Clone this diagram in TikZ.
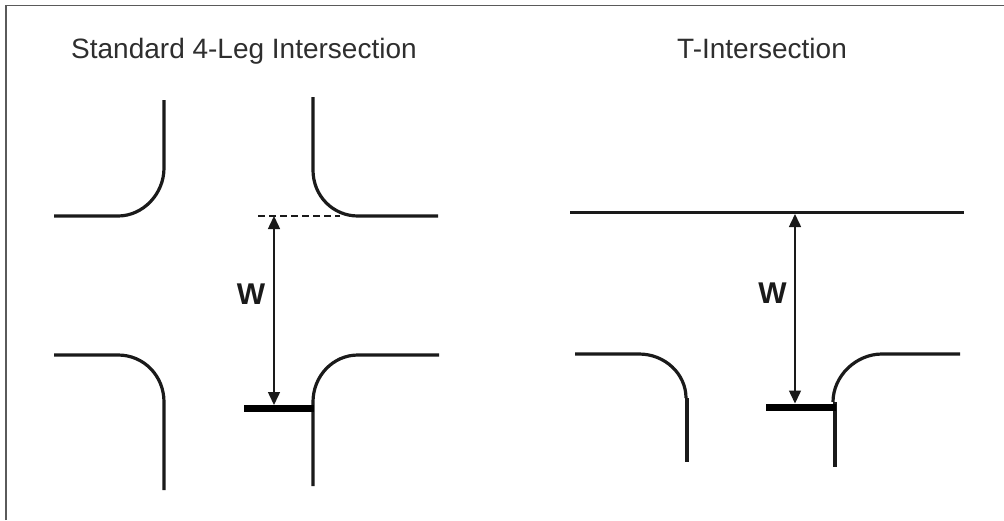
\documentclass[tikz,border=0pt]{standalone}
\usepackage{fontspec}
\setmainfont{Liberation Sans}
\usetikzlibrary{arrows.meta}
\definecolor{framegray}{HTML}{5A5A5A}
\definecolor{inkdark}{HTML}{1A1A1A}
\definecolor{titleink}{HTML}{2E2E2E}
\tikzset{
  road/.style={line width=3.2pt,draw=inkdark,line cap=butt,line join=round},
  stopbar/.style={line width=7pt,draw=black},
  dim/.style={line width=1.5pt,draw=inkdark,{Triangle[length=13pt,width=12pt]}-{Triangle[length=13pt,width=12pt]}},
  sightline/.style={line width=1.3pt,draw=inkdark,dash pattern=on 7pt off 4pt},
  frameline/.style={line width=1.6pt,draw=framegray},
  title/.style={anchor=base west,inner sep=0pt,text=titleink,font=\fontsize{28pt}{32pt}\selectfont},
  wlabel/.style={inner sep=0pt,text=inkdark,font=\fontsize{30pt}{34pt}\selectfont\bfseries}
}
\begin{document}
\begin{tikzpicture}[x=1pt,y=-1pt]
\useasboundingbox (0,0) rectangle (1004,520);
\fill[white] (0,0) rectangle (1004,520);
\draw[frameline] (6,520) -- (6,5.5) -- (1004,5.5);

\node[title] (t1) at (71,58.5) {Standard 4-Leg Intersection};
\node[title] (t2) at (677,58) {T-Intersection};

% 4-leg
\draw[road] (54,216) -- (118,216) .. controls (143,216) and (164,194) .. (164,168) -- (164,100);
\draw[road] (313,97) -- (313,170) .. controls (313,196) and (333,216) .. (358,216) -- (438,216);
\draw[road] (54,355) -- (118,355) .. controls (144,355) and (164,376) .. (164,402) -- (164,490);
\draw[road] (439,355) -- (358,355) .. controls (333,355) and (313,376) .. (313,402) -- (313,486);
\coordinate (a1) at (258,216);
\coordinate (a2) at (340,216);
\draw[sightline] (a1) -- (a2);
\coordinate (b1) at (244,408.5);
\coordinate (b2) at (314,408.5);
\draw[stopbar] (b1) -- (b2);
\coordinate (d1) at (274,216);
\coordinate (d2) at (274,405);
\draw[dim] (d1) -- (d2);
\node[wlabel] (w1) at (251,294) {W};

% T
\coordinate (m1) at (570,212.5);
\coordinate (m2) at (964,212.5);
\draw[road] (m1) -- (m2);
\draw[road] (575,354) -- (639,354) .. controls (665,354) and (686,374) .. (686,398);
\draw[road] (687,398) -- (687,462);
\draw[road] (960,354) -- (882,354) .. controls (856,354) and (833,376) .. (833,402);
\draw[road] (835,402) -- (835,467);
\coordinate (b3) at (766,407);
\coordinate (b4) at (836,407);
\draw[stopbar] (b3) -- (b4);
\coordinate (d3) at (795,214);
\coordinate (d4) at (795,403.5);
\draw[dim] (d3) -- (d4);
\node[wlabel] (w2) at (772.5,293) {W};
\end{tikzpicture}
\end{document}
